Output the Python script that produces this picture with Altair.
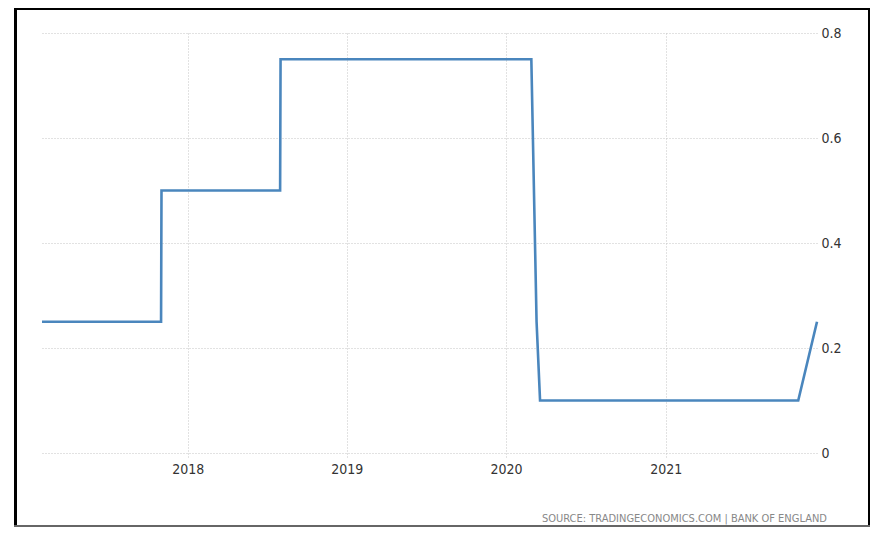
import altair as alt
import pandas as pd

# Bank of England policy rate (step changes)
dates = ["2017-02-01", "2017-11-01", "2017-11-02", "2018-08-01", "2018-08-02",
         "2020-02-28", "2020-03-11", "2020-03-19", "2021-11-01", "2021-12-14"]
rates = [0.25, 0.25, 0.5, 0.5, 0.75, 0.75, 0.25, 0.1, 0.1, 0.25]
y_ticks = [0, 0.2, 0.4, 0.6, 0.8]
x_years = [2018, 2019, 2020, 2021]
source_text = "SOURCE: TRADINGECONOMICS.COM  |  BANK OF ENGLAND"

df = pd.DataFrame({"date": dates, "rate": rates})

W, H = 775, 420
FONT = "DejaVu Sans Condensed"
GRID = "#c4c4c4"

x_enc = alt.X(
    "date:T",
    scale=alt.Scale(type="utc",
                    domain=[alt.DateTime(year=2017, month=2, date=1, utc=True),
                            alt.DateTime(year=2021, month=12, date=14, utc=True)]),
    axis=alt.Axis(
        title=None,
        values=[alt.DateTime(year=y, month=1, date=1, utc=True) for y in x_years],
        format="%Y", formatType="utc",
        grid=True, gridColor=GRID, gridDash=[1, 2], gridWidth=1,
        ticks=True, tickColor=GRID, tickDash=[1, 2], tickSize=5,
        domain=False, labelFont=FONT, labelFontSize=14, labelColor="#333333",
        labelPadding=4, labelAngle=0,
    ),
)
y_enc = alt.Y(
    "rate:Q",
    scale=alt.Scale(domain=[0, 0.8], nice=False, zero=True),
    axis=alt.Axis(
        title=None, orient="right", values=y_ticks, format=".1~f",
        grid=True, gridColor=GRID, gridDash=[1, 2], gridWidth=1,
        ticks=False, domain=False, labelFont=FONT, labelFontSize=14,
        labelColor="#333333", labelPadding=4,
    ),
)

line = alt.Chart(df).mark_line(color="#4a86bd", strokeWidth=2.6).encode(x=x_enc, y=y_enc)

one = pd.DataFrame({"a": [0]})
source = alt.Chart(one).mark_text(
    align="right", baseline="middle", font=FONT, fontSize=11, color="#888888"
).encode(x=alt.value(785), y=alt.value(486), text=alt.value(source_text))

frame_left = alt.Chart(one).mark_rule(color="black", strokeWidth=3).encode(
    x=alt.value(-26.5), y=alt.value(-24), y2=alt.value(493))
frame_top = alt.Chart(one).mark_rule(color="black", strokeWidth=2).encode(
    x=alt.value(-28), x2=alt.value(828), y=alt.value(-24))
frame_right = alt.Chart(one).mark_rule(color="black", strokeWidth=2).encode(
    x=alt.value(827), y=alt.value(-24), y2=alt.value(493))
frame_bottom = alt.Chart(one).mark_rule(color="#666666", strokeWidth=2).encode(
    x=alt.value(-28), x2=alt.value(828), y=alt.value(493))

chart = alt.layer(line, source, frame_left, frame_top, frame_right, frame_bottom).properties(
    width=W, height=H,
    background="white",
    autosize=alt.AutoSizeParams(type="none"),
    padding={"left": 34, "top": 25, "right": 54, "bottom": 75},
).configure_view(stroke="transparent", strokeWidth=0)

chart.save("out.html", embed_options={"renderer": "svg", "actions": False})
